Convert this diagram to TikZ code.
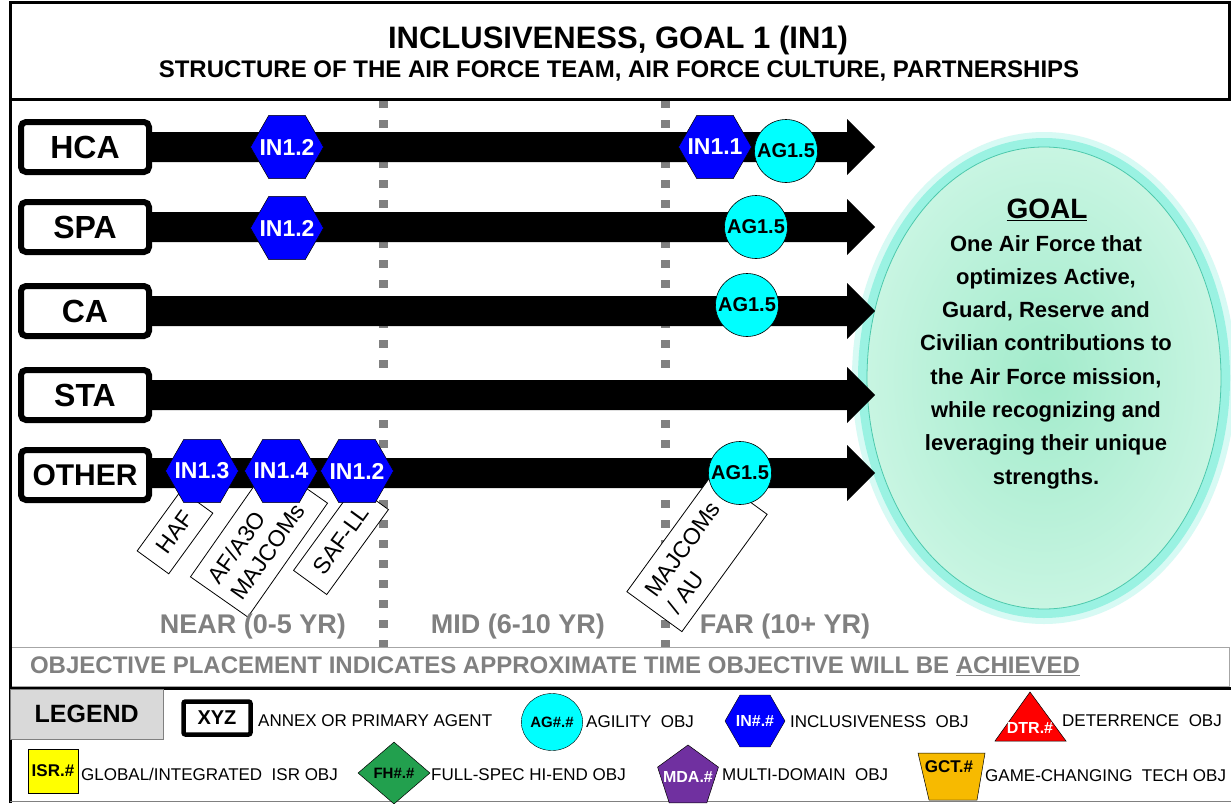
\documentclass[tikz,border=0pt]{standalone}
\usepackage{fontspec}
\setmainfont{Liberation Sans}
\usetikzlibrary{shapes.geometric}
\definecolor{hexblue}{HTML}{0000FF}
\definecolor{agcyan}{HTML}{00FFFF}
\definecolor{dgray}{HTML}{808080}
\definecolor{goalfill}{HTML}{C8F5E2}
\definecolor{goalin}{HTML}{A2EBCB}
\definecolor{goalring}{HTML}{9AF2E2}
\definecolor{goalline}{HTML}{4DC9AC}
\definecolor{legray}{HTML}{D9D9D9}
\definecolor{isryellow}{HTML}{FFFF00}
\definecolor{fhgreen}{HTML}{22A04E}
\definecolor{mdapurple}{HTML}{7030A0}
\definecolor{gctorange}{HTML}{F7BA00}
\definecolor{dtrred}{HTML}{FF0000}
\newcommand{\zw}[1]{\makebox[0pt]{#1}}
\begin{document}
\begin{tikzpicture}[x=1pt,y=-1pt,
  lab/.style={draw=black, line width=6pt, rounded corners=5pt, fill=white, minimum width=128pt, minimum height=50pt, inner sep=0pt, font=\fontsize{32}{36}\selectfont\bfseries},
  hexo/.style={regular polygon, regular polygon sides=6, minimum size=73pt, inner sep=0pt, fill=hexblue, draw=black, line width=0.5pt, text=white, font=\fontsize{23}{27}\selectfont\bfseries},
  ago/.style={circle, minimum size=63pt, inner sep=0pt, fill=agcyan, draw=black, line width=0.6pt, font=\fontsize{20}{24}\selectfont\bfseries},
  tagbox/.style={draw=black, line width=0.8pt, fill=white, inner sep=0pt, align=center, font=\fontsize{23}{28}\selectfont},
  timel/.style={text=dgray, font=\fontsize{27}{32}\selectfont\bfseries},
  vdash/.style={draw=dgray, line width=9pt, dash pattern=on 8pt off 12pt},
  legt/.style={anchor=west, inner sep=0pt, font=\fontsize{17}{20}\selectfont},
  legs/.style={inner sep=0pt, font=\fontsize{15}{18}\selectfont\bfseries},
]
\useasboundingbox (0,0) rectangle (1231,803);
\fill[white] (0,0) rectangle (1231,803);

% title
\node[font=\fontsize{31}{36}\selectfont\bfseries] (title) at (618,40) {INCLUSIVENESS, GOAL 1 (IN1)};
\node[font=\fontsize{24}{28}\selectfont\bfseries] (sub) at (619,71) {STRUCTURE OF THE AIR FORCE TEAM, AIR FORCE CULTURE, PARTNERSHIPS};

% dashed time dividers
\draw[vdash] (383,100) -- (383,647);
\draw[vdash] (665,100) -- (665,647);

% goal ellipse
\fill[goalring!40] (1044,378) ellipse (192 and 246);
\fill[goalring] (1044,378) ellipse (186 and 240);
\node[ellipse, minimum width=354pt, minimum height=462pt, shade, inner color=goalin, outer color=goalfill, draw=goalline, line width=0.8pt] (goal) at (1044,378) {};
\node[font=\fontsize{28}{32}\selectfont\bfseries] (goalt) at (1047,210) {\underline{GOAL}};
\node[font=\fontsize{22}{33.3}\selectfont\bfseries, align=center] (goaltx) at (1046,362) {One Air Force that\\optimizes Active,\\Guard, Reserve and\\Civilian contributions to\\the Air Force mission,\\while recognizing and\\leveraging their unique\\strengths.};

% arrows
\foreach \nm/\yy in {HCA/147,SPA/227,CA/311,STA/395,OTHER/473}{
  \coordinate (e\nm) at (875,\yy);
  \fill[black] (100,\yy-15) -- (847,\yy-15) -- (847,\yy-28) -- (e\nm) -- (847,\yy+28) -- (847,\yy+15) -- (100,\yy+15) -- cycle;
}

% tags
\node[tagbox, rotate=54, minimum width=75pt, minimum height=39pt] (tHAF) at (175,532) {HAF};
\node[tagbox, rotate=55, minimum width=139pt, minimum height=70pt] (tAF) at (259,540) {\parbox{120pt}{AF/A3O\\MAJCOMs}};
\node[tagbox, rotate=54, minimum width=105pt, minimum height=41pt] (tSAF) at (341,540) {SAF-LL};
\node[tagbox, rotate=54, minimum width=145pt, minimum height=68pt] (tMAJ) at (697,553) {\parbox{122pt}{MAJCOMs\\/ AU}};

% objectives
\node[hexo] (h1) at (287,147) {\zw{IN1.2}};
\node[hexo] (h2) at (715,147) {\zw{IN1.1}};
\node[ago] (a1) at (786,151) {AG1.5};
\node[hexo] (h3) at (287,228) {\zw{IN1.2}};
\node[ago] (a2) at (756,227) {AG1.5};
\node[ago] (a3) at (747,305) {AG1.5};
\node[hexo] (h4) at (202,471) {\zw{IN1.3}};
\node[hexo] (h5) at (281,471) {\zw{IN1.4}};
\node[hexo] (h6) at (357,471) {\zw{IN1.2}};
\node[ago] (a4) at (740,473) {AG1.5};

% row labels
\node[lab] (lHCA) at (85,147) {HCA};
\node[lab] (lSPA) at (85,227) {SPA};
\node[lab] (lCA) at (85,311) {CA};
\node[lab] (lSTA) at (85,395) {STA};
\node[lab, font=\fontsize{30}{34}\selectfont\bfseries] (lOTHER) at (85,475) {OTHER};

% time labels
\node[timel] (near) at (253,627) {NEAR (0-5 YR)};
\node[timel] (mid) at (518,627) {MID (6-10 YR)};
\node[timel] (far) at (785,627) {FAR (10+ YR)};

% objective note
\draw[gray!70, line width=1pt] (10,647) rectangle (1229,686);
\node[text=dgray, font=\fontsize{24}{28}\selectfont\bfseries] (obj) at (555,666) {OBJECTIVE PLACEMENT INDICATES APPROXIMATE TIME OBJECTIVE WILL BE \underline{ACHIEVED}};

% frame
\draw[line width=3pt] (10,803) -- (10,2) -- (1229,2) -- (1229,99);
\draw[line width=3pt] (10,99) -- (1231,99);
\draw[line width=3pt] (10,688) -- (1231,688);
\draw[gray, line width=1pt] (10,801) -- (1231,801);

% legend
\node[draw=gray, fill=legray, minimum width=153pt, minimum height=50pt, anchor=north west, inner sep=0pt, font=\fontsize{25}{30}\selectfont\bfseries] (leg) at (10,689) {LEGEND};
\node[draw=black, line width=4.5pt, rounded corners=2pt, minimum width=67pt, minimum height=33pt, inner sep=0pt, font=\fontsize{20}{24}\selectfont\bfseries] (xyz) at (217,718) {XYZ};
\node[legt] (txyz) at (258,721) {ANNEX OR PRIMARY AGENT};
\node[ellipse, draw=black, fill=agcyan, minimum width=61pt, minimum height=57pt, legs] (lag) at (552,722) {AG\#.\#};
\node[legt] (tag) at (586,722) {AGILITY\ \ OBJ};
\node[regular polygon, regular polygon sides=6, minimum size=60pt, draw=black, fill=hexblue, text=white, legs, font=\fontsize{16}{18}\selectfont\bfseries] (lin) at (755,721) {\zw{IN\#.\#}};
\node[legt] (tin) at (790,722) {INCLUSIVENESS\ \ OBJ};
\filldraw[fill=dtrred, draw=black, line width=0.5pt] (1030,692) -- (1066,741) -- (995,741) -- cycle;
\node[legs, text=white, font=\fontsize{16}{18}\selectfont\bfseries] (ldtr) at (1030,728) {DTR.\#};
\node[legt] (tdtr) at (1062,721) {DETERRENCE\ \ OBJ};

\node[fill=isryellow, draw=black, line width=0.5pt, minimum width=50pt, minimum height=44pt, legs, font=\fontsize{17}{20}\selectfont\bfseries] (lisr) at (53,771) {ISR.\#};
\node[legt] (tisr) at (81,774) {GLOBAL/INTEGRATED\ \ ISR OBJ};
\node[diamond, fill=fhgreen, draw=black, line width=0.5pt, minimum width=72pt, minimum height=62pt, legs] (lfh) at (394,773) {FH\#.\#};
\node[legt] (tfh) at (431,775) {FULL-SPEC HI-END OBJ};
\node[regular polygon, regular polygon sides=5, minimum size=64pt, fill=mdapurple, draw=black, line width=0.5pt, text=white, legs, font=\fontsize{16}{18}\selectfont\bfseries] (lmda) at (688,777) {\zw{MDA.\#}};
\node[legt] (tmda) at (722,775) {MULTI-DOMAIN\ \ OBJ};
\filldraw[fill=gctorange, draw=black, line width=0.5pt] (918,753) -- (985,753) -- (977,800) -- (929,800) -- cycle;
\node[legs, font=\fontsize{17}{20}\selectfont\bfseries] (lgct) at (949,767) {GCT.\#};
\node[legt] (tgct) at (985,776) {GAME-CHANGING\ \ TECH OBJ};
\end{tikzpicture}
\end{document}
